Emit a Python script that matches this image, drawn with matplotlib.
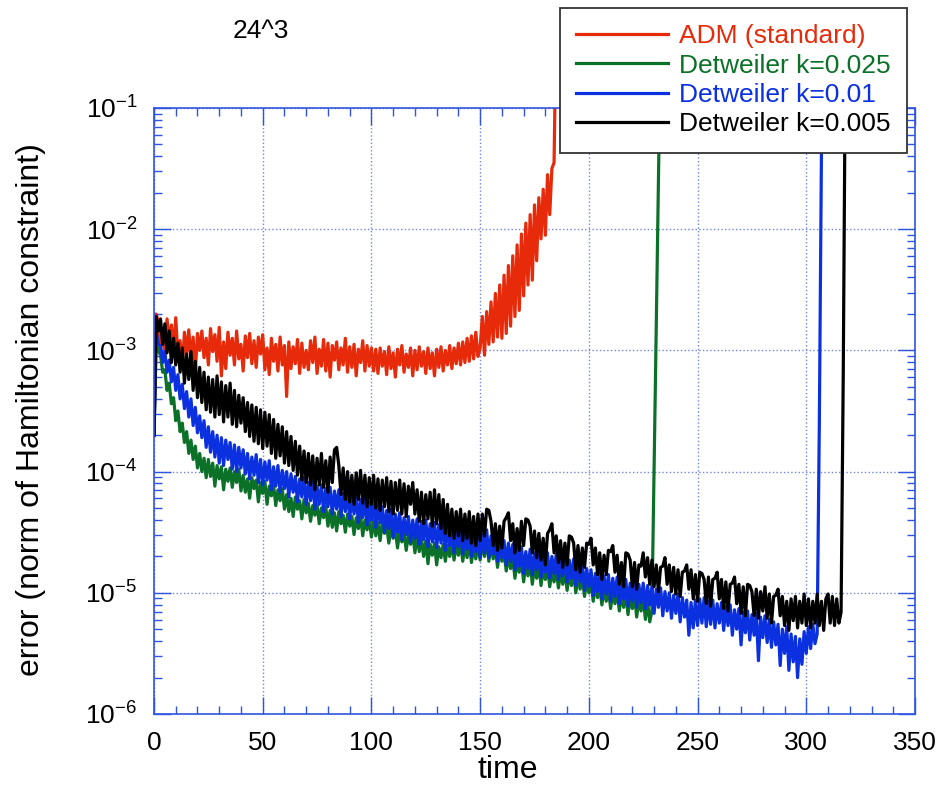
import numpy as np
import matplotlib
matplotlib.use('Agg')
import matplotlib.pyplot as plt
from matplotlib.ticker import MultipleLocator, LogLocator, NullFormatter

plt.rcParams['font.family'] = ['Liberation Sans', 'DejaVu Sans']
plt.rcParams['mathtext.default'] = 'regular'
plt.rcParams['axes.unicode_minus'] = False

# log10 of the Hamiltonian constraint norm, one sample per unit of time (t = 0, 1, 2, ...)
adm_log10 = [
    -3.68, -2.70,
    -2.76, -2.98, -2.82, -3.04, -2.74, -2.93, -2.79, -3.01, -2.73,
    -3.04, -2.92, -3.14, -2.85, -3.03, -2.83, -3.08, -2.89, -3.18, -2.86,
    -3.00, -2.84, -3.06, -2.90, -3.12, -2.82, -3.01, -2.87, -3.09, -2.81,
    -3.21, -2.93, -3.15, -2.85, -3.04, -2.90, -3.12, -2.84, -3.07, -2.95,
    -3.17, -2.88, -3.06, -2.86, -3.11, -2.92, -3.14, -2.89, -3.03, -2.87,
    -3.16, -2.98, -3.20, -2.90, -3.09, -2.95, -3.17, -2.89, -3.12, -2.96,
    -3.38, -2.93, -3.15, -2.97, -3.11, -2.91, -3.19, -2.94, -3.14, -3.00,
    -3.16, -2.92, -3.10, -2.89, -3.19, -2.99, -3.13, -2.91, -3.17, -2.94,
    -3.22, -2.96, -3.08, -2.93, -3.16, -2.98, -3.12, -2.90, -3.18, -2.97,
    -3.14, -2.95, -3.21, -2.99, -3.10, -2.92, -3.17, -2.96, -3.13, -2.98,
    -3.17, -2.99, -3.19, -2.98, -3.13, -3.01, -3.20, -2.97, -3.15, -3.02,
    -3.22, -2.99, -3.12, -2.96, -3.18, -3.03, -3.14, -2.98, -3.21, -3.00,
    -3.16, -2.97, -3.13, -3.01, -3.19, -2.98, -3.15, -3.02, -3.21, -2.99,
    -3.14, -2.97, -3.17, -3.00, -3.12, -2.96, -3.15, -2.98, -3.11, -2.94,
    -3.12, -2.93, -3.10, -2.90, -3.09, -2.88, -3.07, -2.85, -3.05,
    -2.98, -2.72, -3.04, -2.68, -2.95, -2.60, -2.93, -2.53, -2.89, -2.46,
    -2.90, -2.38, -2.86, -2.30, -2.80, -2.22, -2.72, -2.13, -2.67, -2.04,
    -2.55, -1.95, -2.46, -1.88, -2.42, -1.80, -2.26, -1.74, -2.08, -1.67,
    -2.05, -1.55, -1.88, -1.50, -1.45, -0.20, 1.00,
]

k0025_log10 = [
    -3.70, -2.95, -3.00,
    -3.04, -3.18, -3.16, -3.33, -3.27, -3.44, -3.39, -3.58, -3.50,
    -3.67, -3.60, -3.76, -3.67, -3.85, -3.74, -3.90, -3.79, -3.97,
    -3.85, -4.00, -3.89, -4.05, -3.90, -4.04, -3.93, -4.12, -3.95, -4.06,
    -3.96, -4.15, -3.98, -4.08, -3.97, -4.13, -4.00, -4.09, -3.98, -4.16,
    -4.03, -4.17, -4.06, -4.22, -4.05, -4.14, -4.07, -4.25, -4.09, -4.18,
    -4.08, -4.27, -4.12, -4.20, -4.11, -4.28, -4.15, -4.24, -4.14, -4.31,
    -4.19, -4.33, -4.22, -4.37, -4.21, -4.31, -4.24, -4.39, -4.23, -4.34,
    -4.26, -4.41, -4.28, -4.36, -4.27, -4.43, -4.30, -4.38, -4.29, -4.45,
    -4.32, -4.46, -4.34, -4.49, -4.33, -4.43, -4.36, -4.50, -4.35, -4.45,
    -4.37, -4.52, -4.38, -4.47, -4.36, -4.53, -4.40, -4.48, -4.39, -4.54,
    -4.40, -4.53, -4.42, -4.57, -4.41, -4.51, -4.45, -4.59, -4.46, -4.55,
    -4.48, -4.63, -4.49, -4.58, -4.50, -4.65, -4.52, -4.60, -4.51, -4.67,
    -4.53, -4.66, -4.55, -4.70, -4.57, -4.76, -4.60, -4.69, -4.59, -4.77,
    -4.62, -4.71, -4.60, -4.74, -4.61, -4.70, -4.59, -4.73, -4.60, -4.69,
    -4.59, -4.74, -4.61, -4.71, -4.58, -4.75, -4.62, -4.72, -4.60, -4.73,
    -4.58, -4.70, -4.56, -4.74, -4.60, -4.72, -4.63, -4.79, -4.65, -4.74,
    -4.67, -4.82, -4.70, -4.80, -4.71, -4.88, -4.74, -4.83, -4.73, -4.91,
    -4.76, -4.86, -4.75, -4.93, -4.78, -4.88, -4.77, -4.94, -4.80, -4.89,
    -4.79, -4.95, -4.82, -4.91, -4.80, -4.96, -4.83, -4.93, -4.82, -4.98,
    -4.84, -4.94, -4.83, -5.00, -4.87, -4.97, -4.86, -5.03, -4.90, -5.00,
    -4.91, -5.07, -4.94, -5.04, -4.95, -5.10, -4.97, -5.07, -4.96, -5.13,
    -4.99, -5.09, -4.98, -5.15, -5.01, -5.12, -5.00, -5.18, -5.03, -5.13,
    -5.02, -5.20, -5.05, -5.15, -5.04, -5.22, -5.07, -5.24,
    -5.15, -4.00, -2.80, -1.60, -0.40,
]

k001_log10 = [
    -3.70, -2.85, -2.95,
    -2.96, -3.10, -3.01, -3.18, -3.08, -3.26, -3.14, -3.33, -3.20,
    -3.40, -3.28, -3.48, -3.34, -3.55, -3.40, -3.62, -3.47, -3.68,
    -3.54, -3.72, -3.58, -3.80, -3.63, -3.84, -3.67, -3.88, -3.70, -3.93,
    -3.72, -3.95, -3.74, -3.90, -3.76, -3.98, -3.78, -4.00, -3.80, -3.97,
    -3.82, -4.02, -3.85, -4.06, -3.88, -4.03, -3.86, -4.09, -3.90, -4.11,
    -3.92, -4.07, -3.91, -4.15, -3.96, -4.12, -3.95, -4.17, -3.99, -4.14,
    -4.00, -4.21, -4.02, -4.17, -4.04, -4.25, -4.06, -4.21, -4.05, -4.27,
    -4.09, -4.24, -4.08, -4.31, -4.12, -4.27, -4.11, -4.33, -4.14, -4.29,
    -4.13, -4.35, -4.16, -4.31, -4.15, -4.37, -4.18, -4.33, -4.16, -4.39,
    -4.21, -4.35, -4.20, -4.42, -4.23, -4.38, -4.22, -4.44, -4.25, -4.40,
    -4.24, -4.46, -4.27, -4.42, -4.29, -4.50, -4.32, -4.47, -4.31, -4.54,
    -4.35, -4.50, -4.34, -4.56, -4.38, -4.52, -4.37, -4.58, -4.40, -4.55,
    -4.39, -4.60, -4.41, -4.56, -4.40, -4.62, -4.43, -4.58, -4.42, -4.63,
    -4.44, -4.59, -4.43, -4.65, -4.46, -4.61, -4.45, -4.67, -4.48, -4.62,
    -4.47, -4.68, -4.49, -4.64, -4.48, -4.70, -4.51, -4.66, -4.50, -4.71,
    -4.52, -4.67, -4.48, -4.71, -4.53, -4.68, -4.54, -4.74, -4.56, -4.71,
    -4.57, -4.77, -4.59, -4.74, -4.60, -4.81, -4.63, -4.78, -4.62, -4.84,
    -4.66, -4.80, -4.64, -4.85, -4.67, -4.81, -4.66, -4.87, -4.69, -4.83,
    -4.67, -4.88, -4.70, -4.84, -4.68, -4.89, -4.71, -4.86, -4.70, -4.91,
    -4.73, -4.88, -4.72, -4.94, -4.76, -4.91, -4.76, -4.98, -4.80, -4.95,
    -4.81, -5.02, -4.84, -4.99, -4.83, -5.05, -4.86, -5.01, -4.85, -5.07,
    -4.88, -5.03, -4.87, -5.09, -4.90, -5.05, -4.89, -5.11, -4.92, -5.07,
    -4.91, -5.12, -4.93, -5.08, -4.92, -5.13, -4.94, -5.10, -4.95, -5.17,
    -4.97, -5.12, -4.96, -5.19, -4.99, -5.15, -5.00, -5.21, -5.02, -5.17,
    -5.01, -5.24, -5.04, -5.20, -5.06, -5.35, -5.08, -5.29, -5.06, -5.27,
    -5.05, -5.25, -5.04, -5.28, -5.07, -5.26, -5.06, -5.29, -5.09, -5.25,
    -5.08, -5.31, -5.11, -5.27, -5.10, -5.35, -5.14, -5.30, -5.13, -5.43,
    -5.16, -5.33, -5.15, -5.39, -5.18, -5.35, -5.17, -5.56, -5.20, -5.37,
    -5.19, -5.41, -5.22, -5.45, -5.24, -5.43, -5.26, -5.60, -5.30, -5.50,
    -5.28, -5.64, -5.34, -5.57, -5.36, -5.70, -5.38, -5.59, -5.32, -5.50,
    -5.28, -5.46, -5.26, -5.42, -5.34, -3.60, -1.30, 0.50,
]

k0005_log10 = [
    -3.70, -2.72, -2.84,
    -2.74, -2.95, -2.78, -3.02, -2.84, -3.10, -2.90, -3.12, -2.94,
    -3.18, -2.98, -3.27, -3.03, -3.24, -3.01, -3.33, -3.09, -3.39,
    -3.14, -3.43, -3.18, -3.49, -3.22, -3.51, -3.24, -3.55, -3.21, -3.53,
    -3.26, -3.59, -3.29, -3.55, -3.27, -3.61, -3.33, -3.63, -3.37, -3.60,
    -3.39, -3.67, -3.43, -3.71, -3.45, -3.75, -3.47, -3.77, -3.49, -3.81,
    -3.51, -3.79, -3.53, -3.85, -3.57, -3.89, -3.61, -3.87, -3.63, -3.93,
    -3.67, -3.95, -3.71, -3.99, -3.75, -4.03, -3.79, -4.07, -3.83, -4.09,
    -3.85, -4.11, -3.87, -4.15, -3.89, -4.11, -3.85, -4.13, -3.91, -4.17,
    -3.88, -4.09, -3.82, -3.80, -3.95, -4.19, -3.97, -4.23, -4.00, -4.25,
    -4.03, -4.27, -4.01, -4.23, -3.99, -4.26, -4.03, -4.29, -4.05, -4.27,
    -4.03, -4.30, -4.06, -4.32, -4.07, -4.29, -4.05, -4.33, -4.08, -4.35,
    -4.09, -4.32, -4.07, -4.35, -4.10, -4.37, -4.12, -4.27, -4.09, -4.35,
    -4.15, -4.41, -4.17, -4.43, -4.19, -4.39, -4.17, -4.45, -4.15, -4.43,
    -4.19, -4.47, -4.23, -4.51, -4.27, -4.53, -4.31, -4.55, -4.33, -4.53,
    -4.31, -4.57, -4.35, -4.55, -4.33, -4.59, -4.37, -4.61, -4.35, -4.57,
    -4.35, -4.53, -4.31, -4.32, -4.41, -4.61, -4.43, -4.65, -4.45, -4.63,
    -4.41, -4.38, -4.34, -4.57, -4.43, -4.67, -4.47, -4.65, -4.41, -4.61,
    -4.39, -4.40, -4.45, -4.67, -4.49, -4.71, -4.51, -4.73, -4.55, -4.77,
    -4.51, -4.48, -4.43, -4.67, -4.53, -4.75, -4.57, -4.79, -4.59, -4.77,
    -4.53, -4.54, -4.59, -4.81, -4.61, -4.83, -4.63, -4.79, -4.59, -4.60,
    -4.55, -4.77, -4.63, -4.85, -4.67, -4.89, -4.69, -4.85, -4.65, -4.66,
    -4.61, -4.83, -4.69, -4.93, -4.75, -4.95, -4.67, -4.68, -4.73, -4.95,
    -4.75, -4.97, -4.77, -4.78, -4.67, -4.87, -4.71, -4.93, -4.73, -4.95,
    -4.77, -4.99, -4.79, -4.78, -4.71, -4.93, -4.77, -4.99, -4.79, -5.01,
    -4.81, -5.03, -4.83, -4.82, -4.77, -4.97, -4.81, -5.05, -4.85, -5.07,
    -4.83, -4.84, -4.89, -5.09, -4.87, -5.11, -4.89, -4.88, -4.83, -5.05,
    -4.89, -5.13, -4.91, -5.15, -4.93, -4.92, -4.87, -5.09, -4.93, -5.17,
    -4.95, -5.19, -4.93, -4.94, -4.99, -5.19, -4.97, -5.21, -4.99, -5.15,
    -4.95, -5.21, -5.01, -5.25, -5.03, -5.02, -4.97, -5.19, -5.03, -5.27,
    -5.07, -5.31, -5.05, -5.23, -5.03, -5.29, -5.07, -5.25, -5.01, -5.27,
    -5.05, -5.29, -5.07, -5.25, -5.01, -5.27, -5.07, -5.31, -5.05, -5.01,
    -5.25, -5.03, -5.27, -5.05, -5.25, -5.16, -3.20, -0.50,
]

series = [
    ('ADM (standard)', adm_log10, '#e62a0a'),
    ('Detweiler k=0.025', k0025_log10, '#0b7028'),
    ('Detweiler k=0.01', k001_log10, '#0a30e0'),
    ('Detweiler k=0.005', k0005_log10, '#000000'),
]

W, H = 936, 800
frame_col = '#2f55e0'

fig = plt.figure(figsize=(W / 100, H / 100), dpi=100)
ax = fig.add_axes([154 / W, 1 - 714 / H, (915 - 154) / W, (714 - 108) / H])

for label, vals, col in series:
    t = np.arange(len(vals))
    ax.plot(t, 10.0 ** np.array(vals), color=col, lw=2.3, label=label)

ax.set_yscale('log')
ax.set_xlim(0, 350)
ax.set_ylim(1e-6, 1e-1)

ax.xaxis.set_major_locator(MultipleLocator(50))
ax.xaxis.set_minor_locator(MultipleLocator(10))
ax.yaxis.set_major_locator(LogLocator(base=10, numticks=10))
ax.yaxis.set_minor_locator(LogLocator(base=10, subs=np.arange(2, 10), numticks=10))
ax.yaxis.set_minor_formatter(NullFormatter())

for sp in ax.spines.values():
    sp.set_color(frame_col)
    sp.set_linewidth(1.2)

ax.tick_params(which='both', direction='in', top=True, right=True,
               color=frame_col, labelsize=19)
ax.tick_params(axis='x', pad=12)
ax.tick_params(axis='y', pad=12)
ax.tick_params(which='major', length=12, width=1.0)
ax.tick_params(which='minor', length=6, width=1.0)
ax.grid(True, which='major', color='#6f86e6', linestyle=':', linewidth=1.0)

leg = ax.legend(loc='upper right', bbox_to_anchor=(0.9895, 1.165), borderaxespad=0,
                fontsize=19, handlelength=3.5, handletextpad=0.4, labelspacing=0.2,
                borderpad=0.62, fancybox=False, framealpha=1, edgecolor='#333333')
leg.get_frame().set_linewidth(1.3)
for txt, (_, _, col) in zip(leg.get_texts(), series):
    txt.set_color(col)
for ln in leg.get_lines():
    ln.set_linewidth(2.3)

fig.text(261 / W, 1 - 31 / H, '24^3', ha='center', va='center', fontsize=19)
fig.text(508 / W, 1 - 770 / H, 'time', ha='center', va='center', fontsize=23)
fig.text(31 / W, 1 - 410 / H, 'error (norm of Hamiltonian constraint)',
         ha='center', va='center', rotation=90, fontsize=23)

fig.savefig('out.png', dpi=100)
